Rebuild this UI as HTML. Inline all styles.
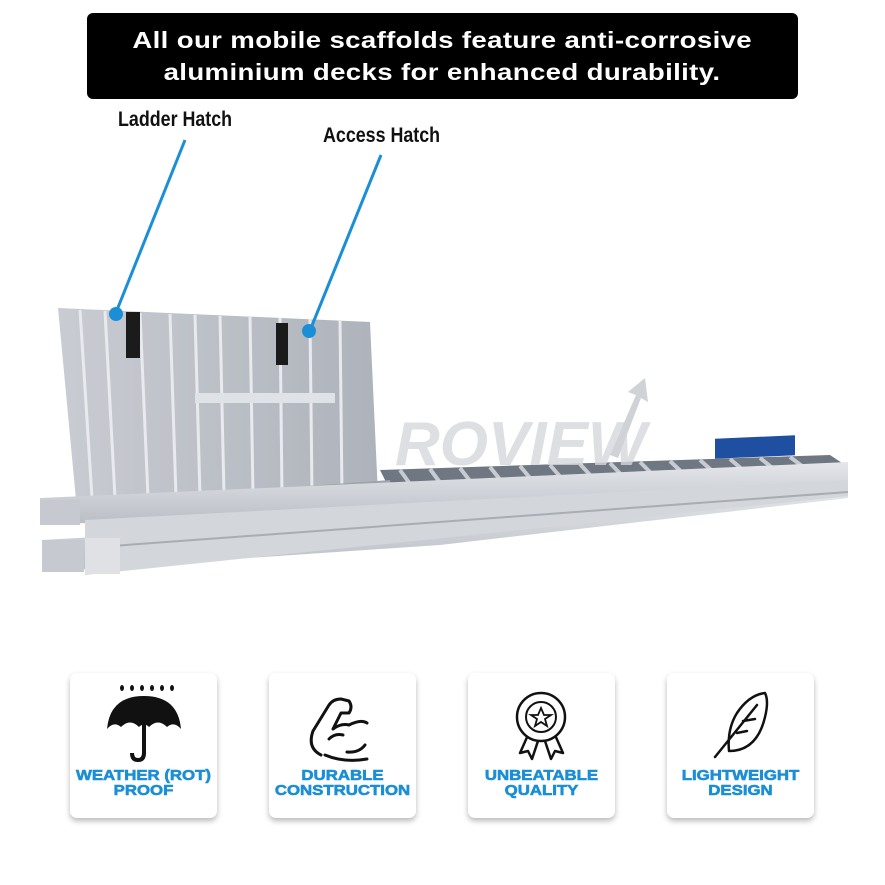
<!DOCTYPE html>
<html><head><meta charset="utf-8"><style>
body{margin:0;width:885px;height:885px;background:#fff;position:relative;overflow:hidden;font-family:"Liberation Sans",sans-serif}
.ban{position:absolute;left:87px;top:13px;width:711px;height:86px;background:#000;border-radius:6px;color:#fff;font-weight:bold;font-size:23px;line-height:32px;text-align:center;padding-top:11px;box-sizing:border-box}
.ban span{display:inline-block;transform:scaleX(1.2);letter-spacing:0.3px}
.lbl{position:absolute;font-family:"Liberation Sans Narrow","Liberation Sans",sans-serif;font-weight:bold;font-size:21px;color:#111;transform:scaleX(0.85);transform-origin:left}
.card{position:absolute;top:673px;width:147px;height:145px;background:#fff;border-radius:7px;box-shadow:0 3px 6px rgba(0,0,0,.28)}
.card .t{position:absolute;left:-20px;right:-20px;top:95px;text-align:center;color:#1a8fd6;font-weight:bold;font-size:15px;line-height:15px;transform:scaleX(1.12);-webkit-text-stroke:0.6px #1a8fd6}
.card svg{position:absolute;left:0;top:0}
</style></head><body>
<div class="ban"><span>All our mobile scaffolds feature anti-corrosive</span><br><span>aluminium decks for enhanced durability.</span></div>
<div class="lbl" style="left:118px;top:108px">Ladder Hatch</div>
<div class="lbl" style="left:323px;top:124px">Access Hatch</div>
<svg width="885" height="660" style="position:absolute;left:0;top:0">
<defs>
<linearGradient id="lid" x1="0" x2="1"><stop offset="0" stop-color="#c9ccd2"/><stop offset="1" stop-color="#aeb3bb"/></linearGradient>
<linearGradient id="beam" x1="0" y1="0" x2="0" y2="1"><stop offset="0" stop-color="#e4e6ea"/><stop offset="1" stop-color="#b9bdc4"/></linearGradient>
</defs>
<polygon points="58,308 370,322 378,495 76,500" fill="url(#lid)"/>
<g stroke="#e8eaee" stroke-width="3">
<line x1="80" y1="310" x2="92" y2="498"/><line x1="105" y1="311" x2="115" y2="498"/><line x1="140" y1="313" x2="148" y2="497"/><line x1="170" y1="314" x2="176" y2="497"/><line x1="195" y1="315" x2="200" y2="497"/><line x1="220" y1="316" x2="224" y2="496"/><line x1="250" y1="317" x2="253" y2="496"/><line x1="280" y1="318" x2="282" y2="496"/><line x1="310" y1="319" x2="312" y2="495"/><line x1="340" y1="320" x2="342" y2="495"/>
</g>
<rect x="195" y="393" width="140" height="10" fill="#dfe2e6"/>
<rect x="126" y="312" width="14" height="46" fill="#1b1b1b"/>
<rect x="276" y="323" width="12" height="42" fill="#1b1b1b"/>
<polygon points="380,470 830,455 845,465 395,500" fill="#6f7782"/>
<g stroke="#c8ccd2" stroke-width="4">
<line x1="400" y1="470" x2="420" y2="498"/><line x1="430" y1="469" x2="450" y2="496"/><line x1="460" y1="468" x2="480" y2="494"/><line x1="490" y1="467" x2="510" y2="492"/><line x1="520" y1="466" x2="540" y2="490"/><line x1="550" y1="465" x2="570" y2="488"/><line x1="580" y1="464" x2="600" y2="486"/><line x1="610" y1="463" x2="630" y2="484"/><line x1="640" y1="462" x2="660" y2="482"/><line x1="670" y1="461" x2="690" y2="480"/><line x1="700" y1="460" x2="720" y2="478"/><line x1="730" y1="459" x2="750" y2="476"/><line x1="760" y1="458" x2="780" y2="474"/><line x1="790" y1="457" x2="810" y2="472"/>
</g>
<text x="395" y="465" font-family="Liberation Sans" font-weight="bold" font-style="italic" font-size="62" fill="#d6d8dc" opacity="0.8">ROVIEW</text>
<path d="M610,455 L636,395 L628,392 L645,378 L648,402 L641,398 L618,458Z" fill="#cfd2d6"/>
<polygon points="110,500 390,480 395,500 120,525" fill="#9ea3aa"/>
<polygon points="40,498 848,462 848,490 40,525" fill="url(#beam)"/>
<rect x="715" y="470" width="80" height="20" fill="#1f4fa0" transform="skewY(-2.5)"/>
<polygon points="42,540 440,518 848,488 848,498 440,545 42,572" fill="url(#beam)"/>
<polygon points="85,520 848,480 848,496 85,575" fill="#d3d6db"/>
<line x1="85" y1="548" x2="848" y2="492" stroke="#a8adb4" stroke-width="2"/>
<rect x="40" y="500" width="40" height="25" fill="#c6c9cf"/>
<rect x="42" y="540" width="42" height="32" fill="#c6c9cf"/>
<rect x="85" y="538" width="35" height="36" fill="#dfe1e5"/>
<line x1="185" y1="140" x2="117" y2="310" stroke="#1a8fd6" stroke-width="3"/>
<line x1="381" y1="155" x2="311" y2="328" stroke="#1a8fd6" stroke-width="3"/>
<circle cx="116" cy="314" r="7" fill="#1a8fd6"/>
<circle cx="309" cy="331" r="7" fill="#1a8fd6"/>
</svg>

<div class="card" style="left:70px">
<svg width="147" height="100">
<g fill="#111"><ellipse cx="52" cy="15" rx="2" ry="3"/><ellipse cx="62" cy="15" rx="2" ry="3"/><ellipse cx="72" cy="15" rx="2" ry="3"/><ellipse cx="82" cy="15" rx="2" ry="3"/><ellipse cx="92" cy="15" rx="2" ry="3"/><ellipse cx="102" cy="15" rx="2" ry="3"/>
<path d="M37,56 Q40,23 74,23 Q108,23 111,56 Q104,48 97,54 Q88,45 79,54 Q74,49 69,54 Q60,45 51,54 Q44,48 37,56Z"/></g>
<path d="M74,50 L74,80 Q74,87 68,87 Q62,87 62,80" fill="none" stroke="#111" stroke-width="4"/>
</svg>
<div class="t">WEATHER (ROT)<br>PROOF</div></div>

<div class="card" style="left:269px">
<svg width="147" height="100">
<path d="M52,82 Q38,75 44,58 L60,32 Q64,26 72,26 L80,28 Q84,34 80,40 L72,40 L64,56 Q72,50 80,52 Q92,46 98,50 M60,66 Q66,60 74,62 M78,79 Q90,80 96,72 M56,82 Q75,90 98,86" fill="none" stroke="#111" stroke-width="3" stroke-linecap="round" stroke-linejoin="round"/>
</svg>
<div class="t">DURABLE<br>CONSTRUCTION</div></div>

<div class="card" style="left:468px">
<svg width="147" height="100">
<path d="M60,62 L52,80 L60,78 L64,86 L70,68 M87,62 L95,80 L87,78 L83,86 L77,68" fill="none" stroke="#111" stroke-width="2.5" stroke-linejoin="round"/>
<circle cx="73" cy="44" r="24" fill="#fff" stroke="#111" stroke-width="2.5"/>
<circle cx="73" cy="44" r="15" fill="none" stroke="#111" stroke-width="2"/>
<path d="M73,35 L76,42 L83,42 L77,46 L79,53 L73,49 L67,53 L69,46 L63,42 L70,42Z" fill="none" stroke="#111" stroke-width="1.8"/>
</svg>
<div class="t">UNBEATABLE<br>QUALITY</div></div>

<div class="card" style="left:667px">
<svg width="147" height="100">
<path d="M48,84 L90,32 M62,78 Q90,78 98,44 Q102,28 98,20 Q82,22 70,40 Q60,56 62,78Z M70,60 L80,58 M76,48 L88,46" fill="none" stroke="#111" stroke-width="2.5" stroke-linejoin="round" stroke-linecap="round"/>
</svg>
<div class="t">LIGHTWEIGHT<br>DESIGN</div></div>
</body></html>
